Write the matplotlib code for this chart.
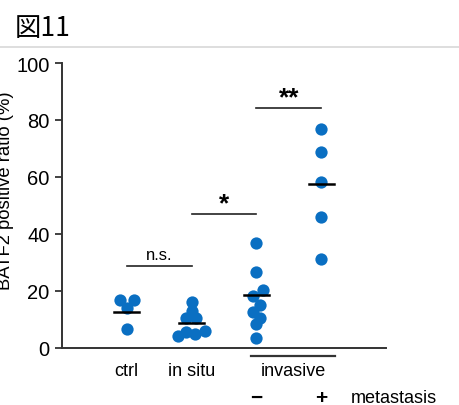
import matplotlib
matplotlib.use("Agg")
import matplotlib.pyplot as plt
from matplotlib.lines import Line2D

plt.rcParams['font.family'] = ['Liberation Sans', 'DejaVu Sans']

# data (BATF2 positive ratio, %)
groups = ['ctrl', 'in situ', 'invasive-', 'invasive+']
ctrl = [16.8, 16.8, 14.0, 6.6]
in_situ = [16.0, 13.1, 10.7, 10.7, 4.3, 5.5, 4.9, 6.1]
inv_neg = [36.8, 26.7, 20.3, 18.3, 15.1, 12.7, 10.4, 8.4, 3.4]
inv_pos = [76.9, 68.8, 58.3, 46.1, 31.2]
means = [12.6, 8.8, 18.7, 57.4]

# horizontal spread of overlapping dots (category units)
ctrl_dx = [-0.11, 0.11, 0.0, 0.0]
in_situ_dx = [0.0, 0.0, -0.08, 0.07, -0.21, -0.08, 0.06, 0.2]
inv_neg_dx = [0.0, 0.0, 0.1, -0.06, 0.05, -0.06, 0.05, 0.0, 0.0]
inv_pos_dx = [0.0, 0.0, 0.0, 0.0, 0.0]

# significance brackets: (x0, x1, height, label)
sig = [(0, 1, 28.8, 'n.s.'), (1, 2, 46.9, '*'), (2, 3, 84.3, '**')]

blue = '#0a6fc2'

fig = plt.figure(figsize=(4.59, 4.06), dpi=100)
ax = fig.add_axes([62/459, 1-349/406, (386-62)/459, (349-64)/406])

series = [ctrl, in_situ, inv_neg, inv_pos]
offsets = [ctrl_dx, in_situ_dx, inv_neg_dx, inv_pos_dx]
for i, (vals, dx) in enumerate(zip(series, offsets)):
    ax.scatter([i + d for d in dx], vals, s=78, color=blue, zorder=3, linewidths=0)
    ax.plot([i - 0.19, i + 0.19], [means[i], means[i]], color='black', lw=1.8, zorder=4)

for x0, x1, h, lab in sig:
    ax.plot([x0, x1], [h, h], color='#222222', lw=1.2)
    if lab == 'n.s.':
        ax.text((x0 + x1) / 2, h + 1.2, lab, ha='center', va='bottom', fontsize=12)
    else:
        ax.text((x0 + x1) / 2, h - 0.5, lab, ha='center', va='bottom', fontsize=19, fontweight='bold')

ax.set_xlim(-1, 4)
ax.set_ylim(0, 100)
ax.set_yticks([0, 20, 40, 60, 80, 100])
ax.tick_params(axis='y', labelsize=14.5, length=5, width=1.3, color='#333333', pad=4)
ax.set_xticks([])
for s in ['top', 'right']:
    ax.spines[s].set_visible(False)
for s in ['left', 'bottom']:
    ax.spines[s].set_linewidth(1.4)
    ax.spines[s].set_color('#333333')

# category labels below the axis
ax.text(0, -7.9, 'ctrl', ha='center', va='center', fontsize=13, clip_on=False)
ax.text(1, -7.9, 'in situ', ha='center', va='center', fontsize=13, clip_on=False)
ax.text(2.57, -7.9, 'invasive', ha='center', va='center', fontsize=13, clip_on=False)
ax.plot([1.92, 3.21], [-2.7, -2.7], color='#333333', lw=1.6, clip_on=False)
ax.text(2, -17.2, '−', ha='center', va='center', fontsize=15, fontweight='bold', clip_on=False)
ax.text(3, -17.2, '+', ha='center', va='center', fontsize=15, fontweight='bold', clip_on=False)
ax.text(3.45, -17.2, 'metastasis', ha='left', va='center', fontsize=13, clip_on=False)

fig.text(6/459, 0.53, 'BATF2 positive ratio (%)', rotation=90, ha='center', va='center', fontsize=13.3)

fig.text(15/459, 1-28/406, '図11', ha='left', va='center', fontsize=19,
         family=['Noto Sans CJK JP', 'DejaVu Sans'])
fig.add_artist(Line2D([0, 1], [1-48/406, 1-48/406], color='#d8d8d8', lw=1.2))

fig.savefig('out.png', dpi=100)
